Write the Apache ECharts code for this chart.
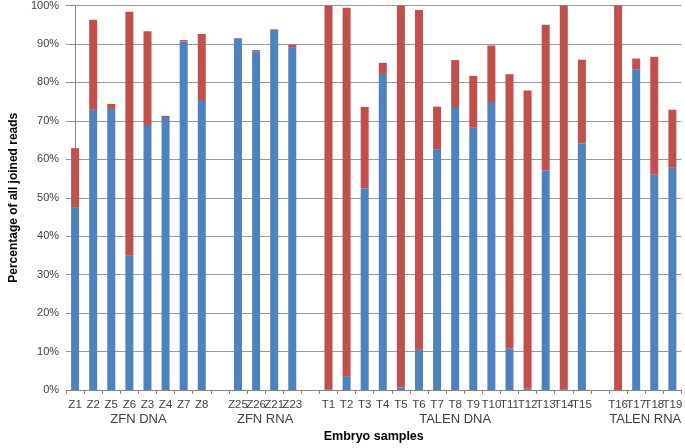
<!DOCTYPE html>
<html><head><meta charset="utf-8">
<script src="https://cdn.jsdelivr.net/npm/echarts@6/dist/echarts.min.js"></script>
<style>html,body{margin:0;padding:0;background:#fff}#c{width:685px;height:448px}</style>
</head><body><div id="c"></div>
<script>
const categories = ['Z1','Z2','Z5','Z6','Z3','Z4','Z7','Z8','',
  'Z25','Z26','Z21','Z23','',
  'T1','T2','T3','T4','T5','T6','T7','T8','T9','T10','T11','T12','T13','T14','T15','',
  'T16','T17','T18','T19'];
// bottom (blue) segment, %
const blueValues = [47.5,72.9,73.1,34.9,68.9,71.0,90.6,75.4,null,
  91.5,88.1,93.6,89.0,null,
  0.2,3.6,52.5,82.2,0.7,10.5,62.6,73.6,68.2,74.9,10.7,0.3,57.1,0.2,64.2,null,
  0,83.4,56.0,57.8];
// total bar height, %
const totalValues = [62.9,96.3,74.4,98.4,93.3,71.3,91.0,92.6,null,
  91.5,88.4,93.8,89.8,null,
  100,99.4,73.6,85.1,100,98.8,73.7,85.8,81.7,89.6,82.1,77.9,95.0,100,85.9,null,
  100,86.2,86.7,72.9];
const redValues = totalValues.map((t,i)=> t==null ? null : +(t - blueValues[i]).toFixed(2));
const groupLabels = ['ZFN DNA','ZFN RNA','TALEN DNA','TALEN RNA'];
const groupCenters = [3.5,10.5,21,31.5];
const yTicks = [0,10,20,30,40,50,60,70,80,90,100];

const font = 'Liberation Sans, Arial, sans-serif';
const chart = echarts.init(document.getElementById('c'));
chart.setOption({
  animation:false,
  grid:{left:48,right:2,top:5,bottom:54},
  xAxis:[{
    type:'category', data:categories, boundaryGap:true,
    axisLine:{lineStyle:{color:'#868686'}},
    axisTick:{show:true,length:4,alignWithLabel:false,interval:0,lineStyle:{color:'#868686'}},
    axisLabel:{interval:0,color:'#404040',fontSize:11.5,fontFamily:font,margin:9},
    name:'Embryo samples', nameLocation:'middle', nameGap:40,
    nameTextStyle:{fontWeight:'bold',fontSize:12.5,color:'#000',fontFamily:font}
  },{
    type:'value', position:'bottom', min:-0.5, max:categories.length-0.5, interval:0.5,
    axisLine:{show:false}, axisTick:{show:false}, splitLine:{show:false},
    axisLabel:{margin:23,color:'#404040',fontSize:13,fontFamily:font,showMinLabel:true,showMaxLabel:true,
      formatter:v=>{const i=groupCenters.indexOf(v);return i>=0?groupLabels[i]:'';}}
  }],
  yAxis:{
    type:'value', min:yTicks[0], max:yTicks[yTicks.length-1], interval:10,
    axisLine:{show:true,lineStyle:{color:'#868686'}},
    axisTick:{show:true,length:4,lineStyle:{color:'#868686'}},
    splitLine:{lineStyle:{color:'#9a9a9a'}},
    axisLabel:{formatter:'{value}%',color:'#404040',fontSize:11,fontFamily:font,margin:7},
    name:'Percentage of all joined reads', nameLocation:'middle', nameGap:34,
    nameTextStyle:{fontWeight:'bold',fontSize:12,color:'#000',fontFamily:font}
  },
  series:[
    {type:'bar',stack:'a',data:blueValues,barWidth:8,itemStyle:{color:'#4F81BD'},xAxisIndex:0},
    {type:'bar',stack:'a',data:redValues,barWidth:8,itemStyle:{color:'#C0504D'},xAxisIndex:0}
  ]
});
</script></body></html>
